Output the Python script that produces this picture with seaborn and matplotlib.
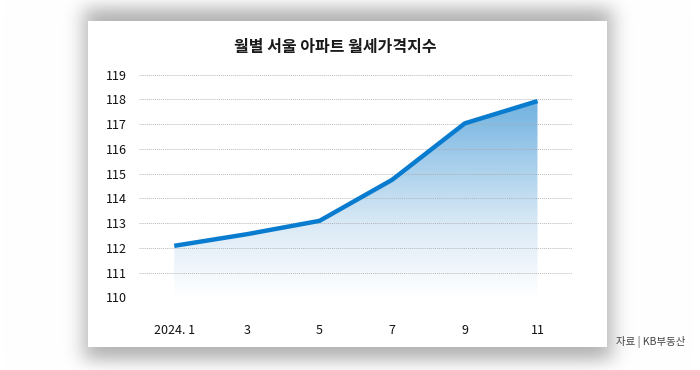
import math
import numpy as np
import pandas as pd
import matplotlib
matplotlib.use("Agg")
import matplotlib.pyplot as plt
from matplotlib.colors import LinearSegmentedColormap
import seaborn as sns

# data
months = [1, 3, 5, 7, 9, 11]
month_labels = ["2024. 1", "3", "5", "7", "9", "11"]
index_values = [112.08, 112.55, 113.09, 114.75, 117.03, 117.93]
y_ticks = list(range(110, 120))

title = "월별 서울 아파트 월세가격지수"
source = "자료 | KB부동산"

line_color = "#0a7ccf"
fonts = ["Noto Sans CJK KR", "DejaVu Sans"]

sns.set_theme(style="white")
plt.rcParams["font.family"] = fonts

W, H = 700, 370
fig = plt.figure(figsize=(7, 3.7), dpi=100)

# background with a soft drop shadow behind the white card
bg = fig.add_axes([0, 0, 1, 1])
bg.set_xlim(0, W)
bg.set_ylim(H, 0)
bg.axis("off")
erf = np.vectorize(math.erf)
xs = np.arange(W) + 0.5
ys = np.arange(H) + 0.5
fx = 0.5 * (erf((xs - 84) / 14) - erf((xs - 612) / 14))
fy = 0.5 * (erf((ys - 8) / 12) - erf((ys - 360) / 12))
shade = 1 - 0.30 * np.outer(fy, fx)
bg.imshow(np.dstack([shade] * 3), extent=[0, W, H, 0], aspect="auto", zorder=0)
bg.add_patch(plt.Rectangle((88, 21), 519, 326, facecolor="white",
                           edgecolor="none", zorder=1))

fig.text(335 / W, 1 - 47 / H, title, ha="center", va="center",
         fontsize=11.5, fontweight="bold", color="#1a1a1a")
fig.text(651 / W, 1 - 342 / H, source, ha="center", va="center",
         fontsize=7.5, color="#444444")

# main chart
ax = fig.add_axes([139 / W, 1 - 297.3 / H, (572 - 139) / W, (297.3 - 74.6) / H])
ax.patch.set_alpha(0)
df = pd.DataFrame({"month": months, "value": index_values})

# gradient fill under the line
fill = ax.fill_between(df["month"], df["value"], 110, facecolor="none",
                       edgecolor="none")
cmap = LinearSegmentedColormap.from_list("g", ["#ffffff", "#dbeaf6", "#a0cbea", "#62aadc"])
grad = np.linspace(0, 1, 256).reshape(-1, 1)
img = ax.imshow(grad, cmap=cmap, origin="lower", aspect="auto",
                extent=[months[0], months[-1], 110, 118.6], zorder=1)
img.set_clip_path(fill.get_paths()[0], transform=ax.transData)
ax.set_xlim(0.03, 11.95)
ax.set_ylim(110, 119)

sns.lineplot(data=df, x="month", y="value", ax=ax, color=line_color,
             linewidth=3.2, zorder=3)
for c in ax.lines:
    c.set_solid_joinstyle("miter")
    c.set_solid_capstyle("butt")

for t in y_ticks:
    ax.axhline(t, color="#a8a8a8", linewidth=0.7, linestyle=(0, (1, 1)),
               alpha=0.8, zorder=2)

ax.set_xticks(months)
ax.set_xticklabels(month_labels)
ax.set_yticks(y_ticks)
ax.tick_params(axis="both", length=0, labelsize=9, colors="#111111")
ax.tick_params(axis="x", pad=19)
ax.tick_params(axis="y", pad=9)
ax.set_xlabel("")
ax.set_ylabel("")
for s in ax.spines.values():
    s.set_visible(False)

fig.savefig("out.png", dpi=100)
